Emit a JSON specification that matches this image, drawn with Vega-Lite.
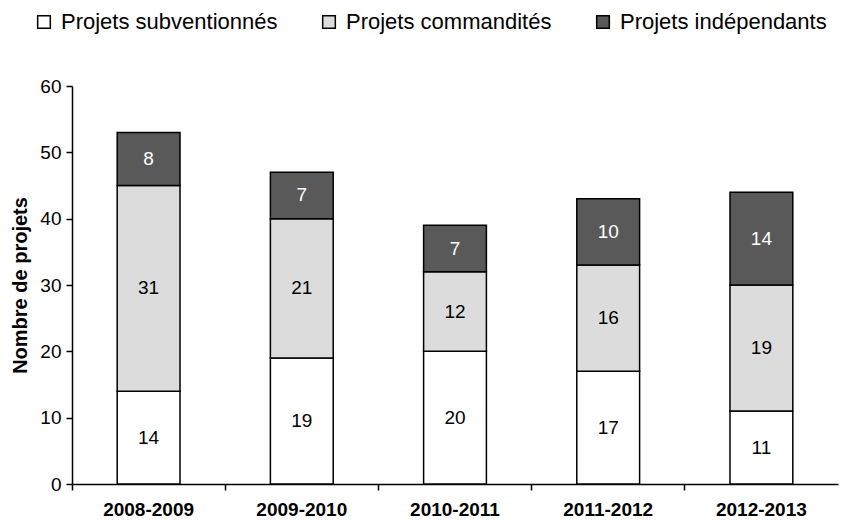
{
  "$schema": "https://vega.github.io/schema/vega-lite/v6.json",
  "width": 766,
  "height": 398,
  "autosize": "none",
  "padding": {"left": 72, "top": 86, "right": 5, "bottom": 37},
  "background": "white",
  "config": {
    "view": {"stroke": null},
    "font": "Liberation Sans"
  },
  "data": {
    "values": [
      {"annee": "2008-2009", "type": "Projets subventionnés", "ordre": 1, "n": 14},
      {"annee": "2008-2009", "type": "Projets commandités", "ordre": 2, "n": 31},
      {"annee": "2008-2009", "type": "Projets indépendants", "ordre": 3, "n": 8},
      {"annee": "2009-2010", "type": "Projets subventionnés", "ordre": 1, "n": 19},
      {"annee": "2009-2010", "type": "Projets commandités", "ordre": 2, "n": 21},
      {"annee": "2009-2010", "type": "Projets indépendants", "ordre": 3, "n": 7},
      {"annee": "2010-2011", "type": "Projets subventionnés", "ordre": 1, "n": 20},
      {"annee": "2010-2011", "type": "Projets commandités", "ordre": 2, "n": 12},
      {"annee": "2010-2011", "type": "Projets indépendants", "ordre": 3, "n": 7},
      {"annee": "2011-2012", "type": "Projets subventionnés", "ordre": 1, "n": 17},
      {"annee": "2011-2012", "type": "Projets commandités", "ordre": 2, "n": 16},
      {"annee": "2011-2012", "type": "Projets indépendants", "ordre": 3, "n": 10},
      {"annee": "2012-2013", "type": "Projets subventionnés", "ordre": 1, "n": 11},
      {"annee": "2012-2013", "type": "Projets commandités", "ordre": 2, "n": 19},
      {"annee": "2012-2013", "type": "Projets indépendants", "ordre": 3, "n": 14}
    ]
  },
  "transform": [
    {"stack": "n", "groupby": ["annee"], "sort": [{"field": "ordre", "order": "ascending"}], "as": ["y0", "y1"]},
    {"calculate": "(datum.y0 + datum.y1) / 2", "as": "ymid"}
  ],
  "encoding": {
    "x": {
      "field": "annee",
      "type": "nominal",
      "scale": {"paddingInner": 0, "paddingOuter": 0},
      "axis": {
        "title": null,
        "labelAngle": 0,
        "labelFont": "Liberation Sans",
        "labelFontSize": 19,
        "labelFontWeight": "bold",
        "labelColor": "black",
        "labelPadding": 10,
        "bandPosition": 0,
        "tickColor": "black",
        "tickSize": 6,
        "tickWidth": 1.5,
        "domainColor": "black",
        "domainWidth": 1.5
      }
    }
  },
  "layer": [
    {
      "mark": {"type": "bar", "width": {"band": 0.41}, "stroke": "black", "strokeWidth": 1.5},
      "encoding": {
        "y": {
          "field": "y0",
          "type": "quantitative",
          "scale": {"domain": [0, 60], "nice": false},
          "axis": {
            "title": "Nombre de projets",
            "titleFont": "Liberation Sans",
            "titleFontSize": 20,
            "titleFontWeight": "bold",
            "titleColor": "black",
            "titlePadding": 9,
            "values": [0, 10, 20, 30, 40, 50, 60],
            "labelFont": "Liberation Sans",
            "labelFontSize": 19,
            "labelColor": "black",
            "labelPadding": 5,
            "grid": false,
            "tickColor": "black",
            "tickSize": 6,
            "tickWidth": 1.5,
            "domainColor": "black",
            "domainWidth": 1.5
          }
        },
        "y2": {"field": "y1"},
        "fill": {
          "field": "type",
          "type": "nominal",
          "scale": {
            "domain": ["Projets subventionnés", "Projets commandités", "Projets indépendants"],
            "range": ["#ffffff", "#dcdcdc", "#595959"]
          },
          "legend": {
            "title": null,
            "orient": "none",
            "legendX": -39,
            "legendY": -75,
            "direction": "horizontal",
            "columns": 3,
            "symbolType": "square",
            "symbolSize": 160,
            "symbolStrokeColor": "black",
            "symbolStrokeWidth": 1.5,
            "labelFont": "Liberation Sans",
            "labelFontSize": 22,
            "labelColor": "black",
            "labelOffset": 6,
            "labelLimit": 400,
            "columnPadding": 40
          }
        }
      }
    },
    {
      "mark": {"type": "text", "font": "Liberation Sans", "fontSize": 19, "baseline": "middle", "align": "center"},
      "encoding": {
        "y": {"field": "ymid", "type": "quantitative"},
        "text": {"field": "n", "type": "quantitative"},
        "color": {
          "condition": {"test": "datum.ordre === 3", "value": "white"},
          "value": "black"
        }
      }
    }
  ]
}
